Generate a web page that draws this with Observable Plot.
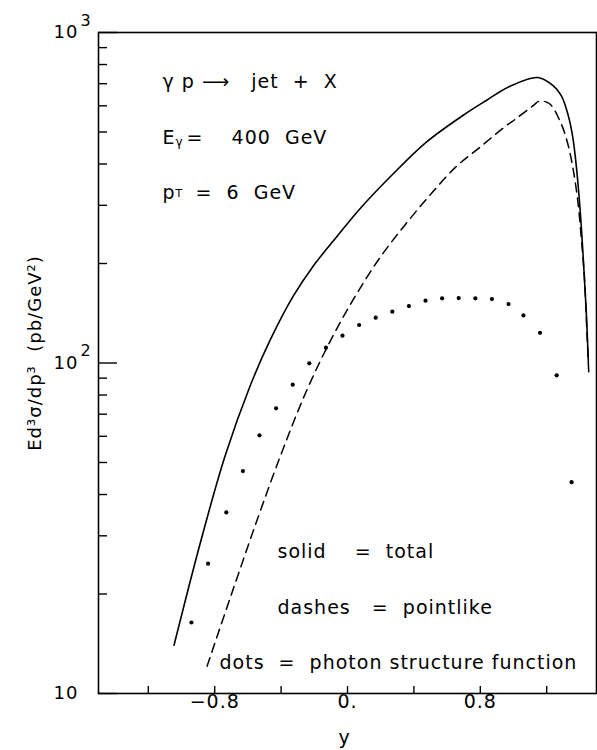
<!DOCTYPE html>
<html>
<head>
<meta charset="utf-8">
<script src="https://cdn.jsdelivr.net/npm/d3@7"></script>
<script src="https://cdn.jsdelivr.net/npm/@observablehq/plot@0.6"></script>
<style>
  html, body { margin: 0; padding: 0; background: #fff; }
  #chart svg { display: block; }
</style>
</head>
<body>
<div id="chart"></div>
<script>
// γ p → jet + X, E_γ = 400 GeV, p_T = 6 GeV
// Jet rapidity y and invariant cross section Ed³σ/dp³ (pb/GeV²)

// total (solid)
const totalY = [-1.045, -0.888, -0.738, -0.588, -0.467, -0.327, -0.207, -0.066, 0.074,
  0.274, 0.475, 0.695, 0.836, 0.976, 1.146,
  1.237, 1.287, 1.327, 1.357, 1.381, 1.403, 1.421, 1.438, 1.451];
const totalV = [14.0, 28.4, 52.2, 84.9, 117.0, 159.3, 196.3, 240.5, 292.4,
  373.0, 465.8, 561, 622.8, 686.7, 731,
  691.5, 645, 567.6, 482.4, 382.4, 283, 204.4, 144.3, 100.5];

// pointlike (dashes)
const pointY = [-0.846, -0.7, -0.55, -0.4, -0.25, -0.1, 0.05, 0.2, 0.35, 0.5, 0.65, 0.8, 0.95,
  1.017, 1.116, 1.157, 1.217, 1.287, 1.327, 1.357, 1.387, 1.408, 1.427, 1.441, 1.454];
const pointV = [12.1, 19.9, 32.9, 53.0, 81.7, 117.5, 160.3, 209.9, 263, 323.6, 390.8, 450.5, 519.4,
  549.3, 599.5, 619.9, 608.7, 529.6, 460.7, 391.4, 310.4, 240.4, 182, 128.5, 91.8];

// photon structure function (dots)
const structY = [-0.94, -0.84, -0.73, -0.63, -0.53, -0.43, -0.33, -0.23, -0.13, -0.03,
  0.07, 0.17, 0.27, 0.37, 0.47, 0.57, 0.67, 0.77, 0.87, 0.97, 1.06, 1.16, 1.26, 1.35];
const structV = [16.4, 24.7, 35.3, 47.1, 60.4, 72.9, 86.0, 99.8, 111.3, 121.0,
  130.3, 137.1, 143.0, 148.7, 154.4, 156.9, 157.2, 156.9, 156.1, 150.8, 139.3, 123.4, 91.8, 43.6];

// axis ticks
const xTicks = [-1.2, -0.8, -0.4, 0, 0.4, 0.8, 1.2];
const xTickLabels = ["", "\u22120.8", "", "0.", "", "0.8", ""];
const yMajorTicks = [10, 100, 1000];
const yMajorBase = ["10", "10", "10"];
const yMajorExp = ["", "2", "3"];
const yMinorTicks = [20, 30, 40, 50, 60, 70, 80, 90, 200, 300, 400, 500, 600, 700, 800, 900];

const xLabel = "y";
const yLabel = "Ed\u00b3\u03c3/dp\u00b3  (pb/GeV\u00b2)";

const total = totalY.map((y, i) => ({y, v: totalV[i]}));
const pointlike = pointY.map((y, i) => ({y, v: pointV[i]}));
const structure = structY.map((y, i) => ({y, v: structV[i]}));

// free-standing text placed relative to the top-left corner of the frame
const note = (text, dx, dy, fontSize = 19) =>
  Plot.text([text], {text: d => d, frameAnchor: "top-left", textAnchor: "start",
    lineAnchor: "middle", dx, dy, fontSize, fill: "black"});

const chart = Plot.plot({
  width: 597,
  height: 750,
  marginLeft: 98,
  marginRight: 1,
  marginTop: 32,
  marginBottom: 57,
  style: {
    fontFamily: "'DejaVu Sans', sans-serif",
    letterSpacing: "1px",
    whiteSpace: "pre",
    background: "white",
    color: "black"
  },
  x: {domain: [-1.5, 1.5]},
  y: {type: "log", domain: [10, 1000]},
  marks: [
    Plot.frame({stroke: "black", strokeWidth: 1.6}),
    // inward ticks on the bottom and left edges
    Plot.axisX(xTicks, {tickSize: -7, strokeWidth: 1.4, tickPadding: 8, fontSize: 19,
      tickFormat: (d, i) => xTickLabels[i], label: null}),
    Plot.axisY(yMinorTicks, {tickSize: -9, strokeWidth: 1.4, tickFormat: () => "", label: null}),
    Plot.axisY(yMajorTicks, {tickSize: -19, strokeWidth: 1.4, tickFormat: () => "", label: null}),
    Plot.text(yMajorTicks, {y: d => d, frameAnchor: "left", text: (d, i) => yMajorBase[i],
      textAnchor: "end", lineAnchor: "middle", dx: -20, fontSize: 18, fill: "black"}),
    Plot.text(yMajorTicks, {y: d => d, frameAnchor: "left", text: (d, i) => yMajorExp[i],
      textAnchor: "start", lineAnchor: "middle", dx: -18, dy: -12, fontSize: 16, fill: "black"}),
    Plot.text([yLabel], {text: d => d, frameAnchor: "left", textAnchor: "middle",
      lineAnchor: "middle", rotate: -90, dx: -63, dy: -10, fontSize: 18, fill: "black"}),
    Plot.text([xLabel], {text: d => d, frameAnchor: "bottom", textAnchor: "middle",
      lineAnchor: "middle", dx: -3, dy: 44, fontSize: 19, fill: "black"}),
    // curves
    Plot.line(total, {x: "y", y: "v", curve: "catmull-rom", stroke: "black", strokeWidth: 1.6}),
    Plot.line(pointlike, {x: "y", y: "v", curve: "catmull-rom", stroke: "black", strokeWidth: 1.5,
      strokeDasharray: "9,6"}),
    Plot.dot(structure, {x: "y", y: "v", r: 2.1, fill: "black", stroke: null}),
    // annotations
    note("\u03b3 p \u27f6   jet  +  X", 64, 49),
    note("E", 64, 105.5),
    note("\u03b3", 77, 110, 12),
    note("=    400  GeV", 88, 105.5),
    note("p", 64, 160.5),
    note("T", 77, 161, 11),
    note("=  6  GeV", 97, 160.5),
    note("solid    =  total", 179, 519.5),
    note("dashes   =  pointlike", 179, 575.5),
    note("dots  =  photon structure function", 121, 630.5)
  ]
});

document.getElementById("chart").appendChild(chart);
</script>
</body>
</html>
